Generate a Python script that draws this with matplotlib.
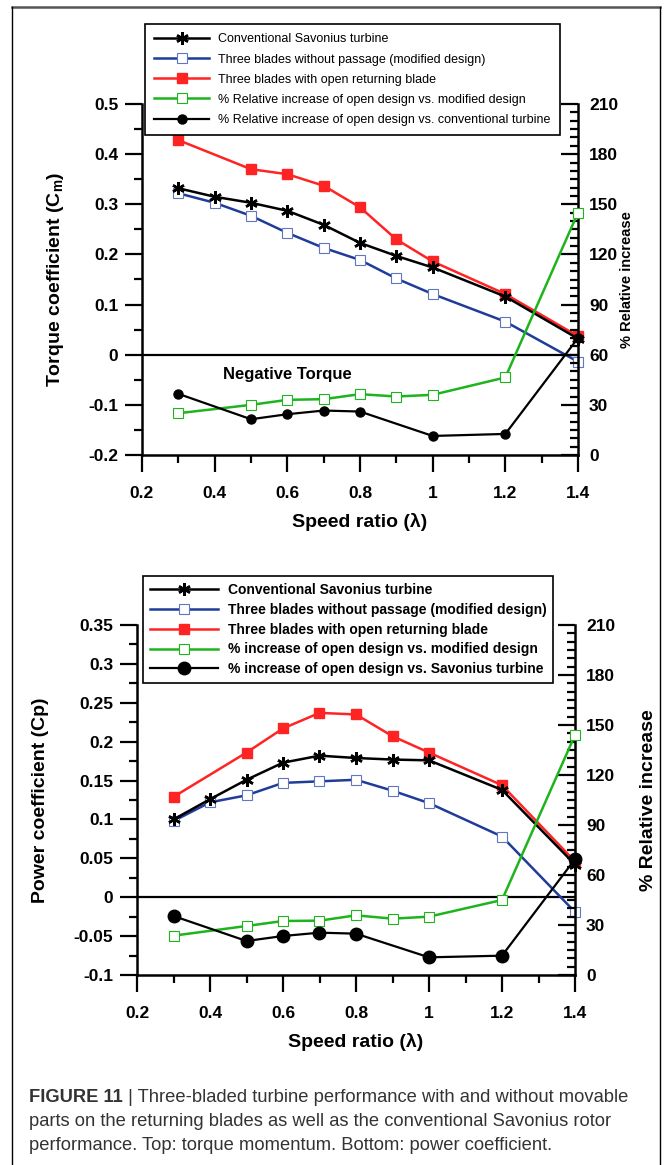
import numpy as np
import matplotlib
matplotlib.use('Agg')
import matplotlib.pyplot as plt
from matplotlib.lines import Line2D
from matplotlib.ticker import MultipleLocator, FormatStrFormatter

plt.rcParams['font.family'] = ['Liberation Sans', 'DejaVu Sans']
plt.rcParams['mathtext.fontset'] = 'custom'
plt.rcParams['mathtext.rm'] = 'Liberation Sans:bold'

# speed ratios
lam_all = [0.3, 0.4, 0.5, 0.6, 0.7, 0.8, 0.9, 1.0, 1.2, 1.4]
lam_open = [0.3, 0.5, 0.6, 0.7, 0.8, 0.9, 1.0, 1.2, 1.4]
lam_pct_conv = [0.3, 0.5, 0.6, 0.7, 0.8, 1.0, 1.2, 1.4]

# top: torque coefficient
cm_conv = [0.332, 0.315, 0.303, 0.287, 0.259, 0.223, 0.197, 0.174, 0.116, 0.032]
cm_mod = [0.322, 0.303, 0.277, 0.243, 0.213, 0.189, 0.152, 0.121, 0.066, -0.014]
cm_open = [0.428, 0.370, 0.360, 0.337, 0.294, 0.230, 0.186, 0.121, 0.037]
cm_pct_mod = [25.0, 30.0, 33.0, 33.4, 36.4, 35.0, 36.0, 46.4, 145.0]
cm_pct_conv = [36.6, 21.4, 24.4, 26.6, 26.0, 11.4, 12.6, 70.0]

# bottom: power coefficient
cp_conv = [0.100, 0.126, 0.151, 0.173, 0.182, 0.179, 0.177, 0.176, 0.138, 0.042]
cp_mod = [0.098, 0.122, 0.131, 0.147, 0.149, 0.151, 0.137, 0.121, 0.078, -0.019]
cp_open = [0.129, 0.186, 0.217, 0.237, 0.235, 0.207, 0.186, 0.144, 0.046]
cp_pct_mod = [23.6, 29.4, 32.4, 32.6, 35.8, 33.8, 35.0, 45.0, 144.0]
cp_pct_conv = [35.4, 20.4, 23.4, 25.4, 24.8, 10.6, 11.6, 69.5]

labels_top = ['Conventional Savonius turbine',
              'Three blades without passage (modified design)',
              'Three blades with open returning blade',
              '% Relative increase of open design vs. modified design',
              '% Relative increase of open design vs. conventional turbine']
labels_bot = ['Conventional Savonius turbine',
              'Three blades without passage (modified design)',
              'Three blades with open returning blade',
              '% increase of open design vs. modified design',
              '% increase of open design vs. Savonius turbine']

BLUE = '#1f3c98'
BLUE_M = '#6076c4'
RED = '#ff2424'
GREEN = '#1db41d'
STAR = (6, 2, 0)

W, H = 664, 1165
fig = plt.figure(figsize=(W / 100, H / 100), dpi=100)


def px_axes(l, r, t, b):
    return [l / W, 1 - b / H, (r - l) / W, (b - t) / H]


def panel(rect, ylim, ystep, yminor, c_conv, c_mod, c_open, p_mod, p_conv,
          ylabel, ylabpad, rlabel_size, rlabel_pad, labels, leg_anchor,
          leg_size, leg_weight, leg_hl, leg_sp, leg_bp, dot_size):
    ax = fig.add_axes(rect)
    ax2 = ax.twinx()
    ax.set_xlim(0.2, 1.4)
    ax.set_ylim(*ylim)
    ax2.set_ylim(0, 210)

    ax.axhline(0, color='black', lw=1.6, zorder=1)

    l1, = ax.plot(lam_all, c_conv, color='black', lw=1.8, marker=STAR,
                  ms=9, mew=1.8, clip_on=False, zorder=4)
    l2, = ax.plot(lam_all, c_mod, color=BLUE, lw=1.8, marker='s', ms=6.5,
                  mfc='white', mec=BLUE_M, mew=0.8, clip_on=False, zorder=3)
    l3, = ax.plot(lam_open, c_open, color=RED, lw=1.8, marker='s', ms=7.5,
                  mfc=RED, mec=RED, clip_on=False, zorder=2)
    l4, = ax2.plot(lam_open, p_mod, color=GREEN, lw=1.8, marker='s', ms=7,
                   mfc='white', mec=GREEN, mew=0.8, clip_on=False, zorder=3)
    l5, = ax2.plot(lam_pct_conv, p_conv, color='black', lw=1.6, marker='o',
                   ms=dot_size, clip_on=False, zorder=4)

    for a in (ax, ax2):
        a.spines['top'].set_visible(False)
        for s in ('left', 'right', 'bottom'):
            a.spines[s].set_linewidth(1.8)
    ax.spines['right'].set_visible(False)
    ax2.spines['left'].set_visible(False)
    ax2.spines['bottom'].set_visible(False)

    ax.xaxis.set_major_locator(MultipleLocator(0.2))
    ax.xaxis.set_minor_locator(MultipleLocator(0.1))
    ax.yaxis.set_major_locator(MultipleLocator(ystep))
    ax.yaxis.set_minor_locator(MultipleLocator(yminor))
    ax.xaxis.set_major_formatter(FormatStrFormatter('%g'))
    ax.yaxis.set_major_formatter(FormatStrFormatter('%g'))
    ax2.yaxis.set_major_locator(MultipleLocator(30))
    ax2.yaxis.set_minor_locator(MultipleLocator(5))

    ax.tick_params(axis='both', which='major', direction='out', length=12,
                   width=1.6, labelsize=12.5, pad=5)
    ax.tick_params(axis='both', which='minor', direction='out', length=6,
                   width=1.6)
    ax.tick_params(axis='x', which='major', pad=10)
    ax2.tick_params(axis='y', which='major', direction='in', length=12,
                    width=1.6, labelsize=12.5, pad=8)
    ax2.tick_params(axis='y', which='minor', direction='in', length=6,
                    width=1.6)
    for t in ax.get_xticklabels() + ax.get_yticklabels() + ax2.get_yticklabels():
        t.set_fontweight('bold')

    ax.set_xlabel('Speed ratio (λ)', fontsize=14, fontweight='bold', labelpad=9)
    ax.set_ylabel(ylabel, fontsize=14, fontweight='bold', labelpad=ylabpad)
    ax2.set_ylabel('% Relative increase', fontsize=rlabel_size,
                   fontweight='bold', labelpad=rlabel_pad)

    leg = ax2.legend([l1, l2, l3, l4, l5], labels, loc='upper left',
                     bbox_to_anchor=leg_anchor, bbox_transform=fig.transFigure,
                     borderaxespad=0, fancybox=False, framealpha=1,
                     edgecolor='black', handlelength=leg_hl,
                     handletextpad=0.7, labelspacing=leg_sp, borderpad=leg_bp,
                     prop={'size': leg_size, 'weight': leg_weight})
    leg.get_frame().set_linewidth(1.2)
    return ax, ax2


ax_t, ax_t2 = panel(px_axes(142, 578, 104, 455), (-0.2, 0.5), 0.1, 0.05,
                    cm_conv, cm_mod, cm_open, cm_pct_mod, cm_pct_conv,
                    'Torque coefficient (C$_\\mathregular{m}$)', 16, 10.5, 1,
                    labels_top, (145 / W, 1 - 24 / H), 9.0, 'normal', 4.4,
                    0.65, 0.75, 6.5)
ax_t.text(0.6, -0.04, 'Negative Torque', ha='center', va='center',
          fontsize=12, fontweight='bold')

ax_b, ax_b2 = panel(px_axes(137, 575, 625, 975), (-0.1, 0.35), 0.05, 0.025,
                    cp_conv, cp_mod, cp_open, cp_pct_mod, cp_pct_conv,
                    'Power coefficient (Cp)', 18, 14, 18,
                    labels_bot, (143 / W, 1 - 576 / H), 10, 'bold', 4.9,
                    0.42, 0.5, 9)

# outer frame
fig.add_artist(Line2D([12 / W, 660 / W], [1 - 7 / H, 1 - 7 / H],
                      transform=fig.transFigure, color='#555555', lw=1.8))
for xx in (12, 660):
    fig.add_artist(Line2D([xx / W, xx / W], [1 - 7 / H, 0],
                          transform=fig.transFigure, color='black', lw=1.0))

# caption
cap_col = '#333333'
cap_fs = 13.2
t1 = fig.text(29 / W, 1 - 1097 / H, 'FIGURE 11', fontsize=cap_fs,
              fontweight='bold', color=cap_col, va='center')
fig.canvas.draw()
bb = t1.get_window_extent()
fig.text(bb.x1 / W, 1 - 1097 / H,
         ' | Three-bladed turbine performance with and without movable',
         fontsize=cap_fs, color=cap_col, va='center')
fig.text(29 / W, 1 - 1122 / H,
         'parts on the returning blades as well as the conventional Savonius rotor',
         fontsize=cap_fs, color=cap_col, va='center')
fig.text(29 / W, 1 - 1146 / H,
         'performance. Top: torque momentum. Bottom: power coefficient.',
         fontsize=cap_fs, color=cap_col, va='center')

fig.savefig('out.png', dpi=100)
